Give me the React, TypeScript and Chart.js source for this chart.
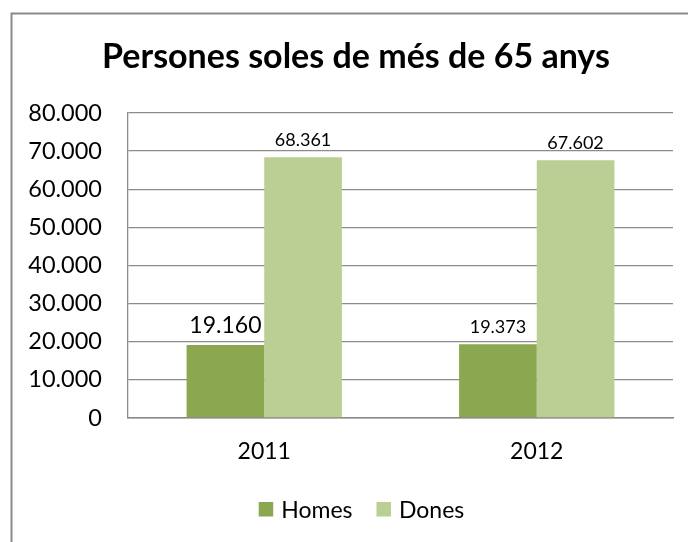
import React, { useEffect, useRef } from "react";
import { Chart, registerables } from "chart.js";

Chart.register(...registerables);

const TITLE = "Persones soles de més de 65 anys";
const YEARS = ["2011", "2012"];
const HOMES = [19160, 19373];
const DONES = [68361, 67602];
const SERIES_NAMES = ["Homes", "Dones"];
const COLORS = ["#8BA74F", "#BBCF95"];
const Y_MAX = 80000;
const Y_STEP = 10000;

const FONT = "Lato, 'Open Sans', sans-serif";

function fmt(v: number): string {
  return String(Math.round(v)).replace(/\B(?=(\d{3})+(?!\d))/g, ".");
}

const framePlugin = {
  id: "frame",
  beforeDraw(chart: any) {
    const ctx = chart.ctx;
    ctx.save();
    ctx.fillStyle = "#ffffff";
    ctx.fillRect(0, 0, chart.width, chart.height);
    ctx.strokeStyle = "#8a8a8a";
    ctx.lineWidth = 2;
    ctx.beginPath();
    ctx.moveTo(11.5, chart.height);
    ctx.lineTo(11.5, 13.5);
    ctx.lineTo(chart.width, 13.5);
    ctx.stroke();
    ctx.restore();
  },
  afterDraw(chart: any) {
    const ctx = chart.ctx;
    ctx.save();
    // title
    ctx.fillStyle = "#000";
    ctx.font = `bold 34px ${FONT}`;
    ctx.textAlign = "center";
    ctx.textBaseline = "alphabetic";
    ctx.fillText(TITLE, 356, 68);
    // legend
    ctx.font = `23px ${FONT}`;
    const sq = 14.5;
    const gap = 8;
    const itemGap = 24;
    const widths = SERIES_NAMES.map((n) => ctx.measureText(n).width);
    const total = widths.reduce((a, w) => a + sq + gap + w, 0) + itemGap * (SERIES_NAMES.length - 1);
    let x = 361.5 - total / 2;
    ctx.textAlign = "left";
    SERIES_NAMES.forEach((n, i) => {
      ctx.fillStyle = COLORS[i];
      ctx.fillRect(x, 502, sq, sq);
      x += sq + gap;
      ctx.fillStyle = "#000";
      ctx.fillText(n, x, 518);
      x += widths[i] + itemGap;
    });
    ctx.restore();
  },
};

const labelPlugin = {
  id: "valueLabels",
  afterDatasetsDraw(chart: any) {
    const ctx = chart.ctx;
    ctx.save();
    ctx.fillStyle = "#000";
    ctx.textAlign = "center";
    ctx.textBaseline = "alphabetic";
    chart.data.datasets.forEach((ds: any, di: number) => {
      const meta = chart.getDatasetMeta(di);
      meta.data.forEach((el: any, i: number) => {
        const big = di === 0 && i === 0;
        ctx.font = `${big ? 23 : 18}px ${FONT}`;
        ctx.fillText(fmt(ds.data[i]), el.x, el.y - 11.5);
      });
    });
    ctx.restore();
  },
};

export default function App() {
  const ref = useRef<HTMLCanvasElement | null>(null);
  useEffect(() => {
    if (!ref.current) return;
    const chart = new Chart(ref.current, {
      type: "bar",
      data: {
        labels: YEARS,
        datasets: [
          { label: SERIES_NAMES[0], data: HOMES, backgroundColor: COLORS[0], borderWidth: 0 },
          { label: SERIES_NAMES[1], data: DONES, backgroundColor: COLORS[1], borderWidth: 0 },
        ],
      },
      options: {
        responsive: false,
        animation: false,
        layout: { padding: { top: 113, left: 0, right: 15, bottom: 0 } },
        datasets: { bar: { categoryPercentage: 0.57, barPercentage: 1.0 } },
        plugins: {
          legend: { display: false },
          title: { display: false },
          tooltip: { enabled: false },
        },
        scales: {
          x: {
            grid: { display: false, drawTicks: false },
            border: { display: true, color: "#888888", width: 1.5 },
            ticks: { color: "#000", font: { family: FONT, size: 23 }, padding: 20 },
            afterFit: (s: any) => {
              s.height = 124;
            },
          },
          y: {
            min: 0,
            max: Y_MAX,
            grid: { color: "#8c8c8c", lineWidth: 1.3, drawTicks: false },
            border: { display: true, color: "#8c8c8c", width: 1.3 },
            ticks: {
              stepSize: Y_STEP,
              color: "#000",
              font: { family: FONT, size: 23.5 },
              padding: 26,
              callback: (v: any) => fmt(Number(v)),
            },
            afterFit: (s: any) => {
              s.width = 128;
            },
          },
        },
      },
      plugins: [framePlugin, labelPlugin],
    });
    if ((document as any).fonts && (document as any).fonts.load) {
      Promise.all([
        (document as any).fonts.load(`22px Lato`),
        (document as any).fonts.load(`bold 34px Lato`),
      ]).then(() => chart.update()).catch(() => {});
    }
    return () => chart.destroy();
  }, []);
  return (
    <div style={{ position: "absolute", left: 0, top: 0, width: 688, height: 542 }}>
      <canvas ref={ref} width={688} height={542} />
    </div>
  );
}
